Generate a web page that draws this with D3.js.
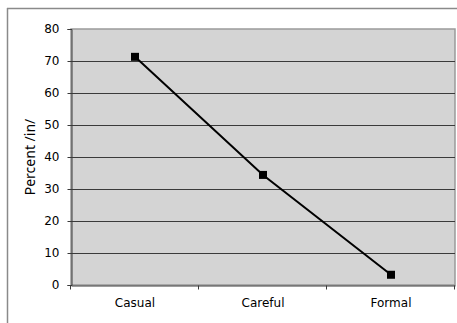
<!DOCTYPE html>
<html><head><meta charset="utf-8">
<script src="https://cdn.jsdelivr.net/npm/d3@7"></script>
<style>body{margin:0;background:#fff}svg{display:block}</style>
</head><body>
<script>
const categories = ["Casual", "Careful", "Formal"];
const values = [71.3, 34.4, 3.2];
const yTicks = [0, 10, 20, 30, 40, 50, 60, 70, 80];
const yLabel = "Percent /in/";

const W = 457, H = 323;
const m = {left: 71, top: 29, right: 2, bottom: 38};
const svg = d3.select("body").append("svg").attr("width", W).attr("height", H);
const font = "DejaVu Sans, Verdana, sans-serif";

// outer frame
svg.append("line").attr("x1", 7.5).attr("x2", 7.5).attr("y1", 8).attr("y2", H).attr("stroke", "#8a8a8a").attr("stroke-width", 1.5);
svg.append("line").attr("x1", 7).attr("x2", W).attr("y1", 8.5).attr("y2", 8.5).attr("stroke", "#8a8a8a").attr("stroke-width", 1.5);

const x = d3.scaleBand().domain(categories).range([m.left, W - m.right]);
const y = d3.scaleLinear().domain([0, 80]).range([H - m.bottom, m.top]);

// plot background
svg.append("rect").attr("x", m.left).attr("y", m.top)
  .attr("width", W - m.right - m.left).attr("height", H - m.bottom - m.top)
  .attr("fill", "#d4d4d4").attr("stroke", "#9a9a9a").attr("stroke-width", 1.5);

// gridlines
svg.append("g").selectAll("line").data(yTicks.filter(d => d > 0 && d < 80)).join("line")
  .attr("x1", m.left).attr("x2", W - m.right)
  .attr("y1", d => Math.round(y(d)) + 0.5).attr("y2", d => Math.round(y(d)) + 0.5)
  .attr("stroke", "#3a3a3a").attr("stroke-width", 1);

// y axis
const ya = svg.append("g").attr("transform", `translate(${m.left + 0.5},0)`)
  .call(d3.axisLeft(y).tickValues(yTicks).tickSize(4).tickPadding(8));
ya.select(".domain").attr("stroke", "#3a3a3a");
ya.selectAll(".tick line").attr("stroke", "#3a3a3a");
ya.selectAll("text").attr("font-family", font).attr("font-size", 12).attr("fill", "#000");

// x axis
const xa = svg.append("g").attr("transform", `translate(0,${H - m.bottom + 0.5})`)
  .call(d3.axisBottom(x).tickSize(0).tickPadding(13));
xa.select(".domain").attr("stroke", "#3a3a3a");
xa.selectAll("text").attr("font-family", font).attr("font-size", 12).attr("fill", "#000");
// boundary ticks
const bounds = categories.map(c => x(c)).concat([x(categories[categories.length - 1]) + x.bandwidth()]);
xa.selectAll(".btick").data(bounds).join("line").attr("class", "btick")
  .attr("x1", d => Math.round(d) - 0.5).attr("x2", d => Math.round(d) - 0.5)
  .attr("y1", 0).attr("y2", 4).attr("stroke", "#3a3a3a");

// y label
svg.append("text").attr("transform", `translate(35,${(m.top + H - m.bottom) / 2}) rotate(-90)`)
  .attr("text-anchor", "middle").attr("font-family", "Noto Sans, sans-serif").attr("font-size", 14).text(yLabel);

// line
const cx = c => x(c) + x.bandwidth() / 2;
svg.append("path").datum(values)
  .attr("d", d3.line().x((d, i) => cx(categories[i])).y(d => y(d)))
  .attr("fill", "none").attr("stroke", "#000").attr("stroke-width", 2);
svg.append("g").selectAll("rect").data(values).join("rect")
  .attr("x", (d, i) => cx(categories[i]) - 4).attr("y", d => y(d) - 4)
  .attr("width", 8).attr("height", 8).attr("fill", "#000");
</script>
</body></html>
